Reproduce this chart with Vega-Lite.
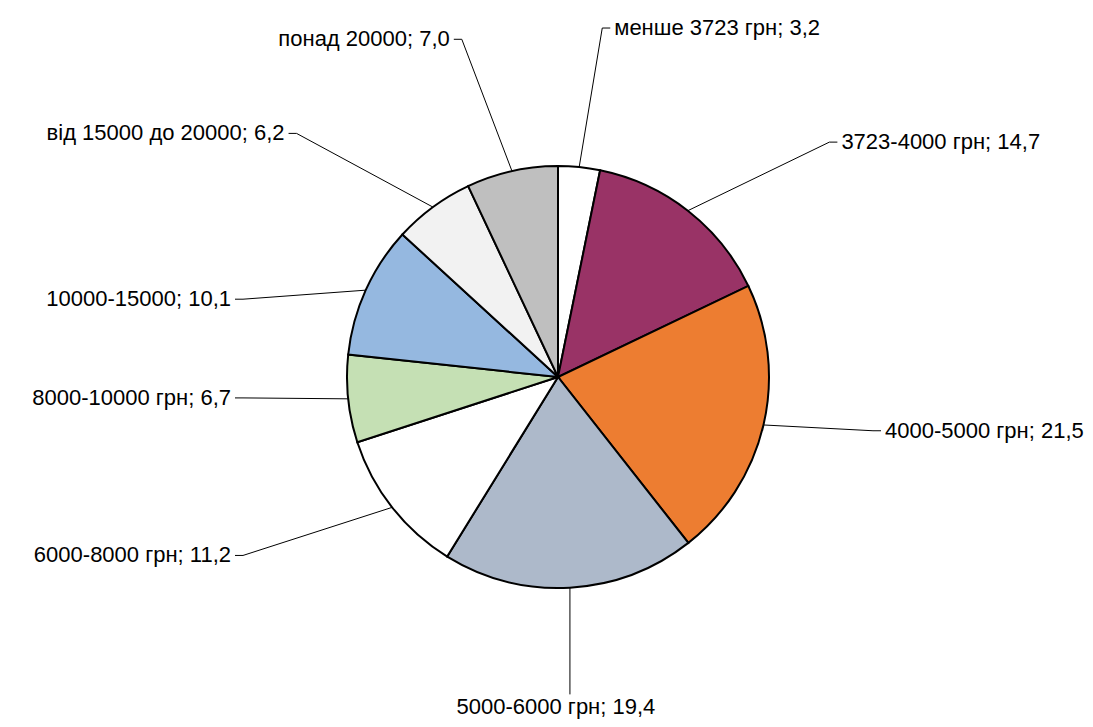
{
  "$schema": "https://vega.github.io/schema/vega-lite/v6.json",
  "width": 1070,
  "height": 700,
  "autosize": {"type": "none"},
  "padding": {"left": 23, "top": 27, "right": 0, "bottom": 0},
  "background": "white",
  "config": {"view": {"stroke": null}, "text": {"font": "Liberation Sans", "fontSize": 22, "fill": "black"}},
  "data": {"values": [
    {"idx": 1, "category": "менше 3723 грн", "value": 3.2},
    {"idx": 2, "category": "3723-4000 грн", "value": 14.7},
    {"idx": 3, "category": "4000-5000 грн", "value": 21.5},
    {"idx": 4, "category": "5000-6000 грн", "value": 19.4},
    {"idx": 5, "category": "6000-8000 грн", "value": 11.2},
    {"idx": 6, "category": "8000-10000 грн", "value": 6.7},
    {"idx": 7, "category": "10000-15000", "value": 10.1},
    {"idx": 8, "category": "від 15000 до 20000", "value": 6.2},
    {"idx": 9, "category": "понад 20000", "value": 7.0}
  ]},
  "transform": [
    {"window": [{"op": "sum", "field": "value", "as": "cum"}], "sort": [{"field": "idx"}], "frame": [null, 0]},
    {"joinaggregate": [{"op": "sum", "field": "value", "as": "total"}]},
    {"calculate": "2*PI*(datum.cum - datum.value/2)/datum.total", "as": "mid"},
    {"calculate": "sin(datum.mid)", "as": "s"},
    {"calculate": "cos(datum.mid)", "as": "c"},
    {"calculate": "datum.c < -0.9", "as": "bottom"},
    {"calculate": "datum.s >= 0 ? 1 : -1", "as": "side"},
    {"calculate": "211*datum.s", "as": "ex"},
    {"calculate": "211*datum.c", "as": "ey"},
    {"calculate": "datum.bottom ? datum.ex : 315*datum.side*min(1, 1.4*abs(datum.s))", "as": "lx"},
    {"calculate": "datum.c >= 0 ? 352*pow(datum.c, 1.7) : -318*pow(-datum.c, 1.2)", "as": "ly"},
    {"calculate": "datum.bottom ? datum.lx : datum.lx + datum.side*8", "as": "hx"},
    {"calculate": "datum.bottom ? datum.lx - 14 : datum.hx + datum.side*4", "as": "tx"},
    {"calculate": "datum.bottom ? datum.ly - 3 : datum.ly", "as": "ty"},
    {"calculate": "datum.category + '; ' + replace(format(datum.value, '.1f'), '.', ',')", "as": "label"}
  ],
  "layer": [
    {
      "mark": {"type": "rule", "stroke": "black", "strokeWidth": 1},
      "encoding": {
        "x": {"field": "ex", "type": "quantitative", "scale": {"domain": [-535, 535], "nice": false, "zero": false}, "axis": null},
        "y": {"field": "ey", "type": "quantitative", "scale": {"domain": [-350, 350], "nice": false, "zero": false}, "axis": null},
        "x2": {"field": "lx"},
        "y2": {"field": "ly"}
      }
    },
    {
      "transform": [{"filter": "!datum.bottom"}],
      "mark": {"type": "rule", "stroke": "black", "strokeWidth": 1},
      "encoding": {
        "x": {"field": "lx", "type": "quantitative", "scale": {"domain": [-535, 535], "nice": false, "zero": false}, "axis": null},
        "y": {"field": "ly", "type": "quantitative", "scale": {"domain": [-350, 350], "nice": false, "zero": false}, "axis": null},
        "x2": {"field": "hx"}
      }
    },
    {
      "mark": {"type": "arc", "outerRadius": 211, "stroke": "black", "strokeWidth": 2},
      "encoding": {
        "theta": {"field": "value", "type": "quantitative", "stack": true},
        "order": {"field": "idx", "type": "quantitative"},
        "color": {
          "field": "category", "type": "nominal", "legend": null,
          "scale": {
            "domain": ["менше 3723 грн", "3723-4000 грн", "4000-5000 грн", "5000-6000 грн", "6000-8000 грн", "8000-10000 грн", "10000-15000", "від 15000 до 20000", "понад 20000"],
            "range": ["#FFFFFF", "#993366", "#ED7D31", "#ADB9CA", "#FFFFFF", "#C5E0B4", "#95B8E0", "#F2F2F2", "#BFBFBF"]
          }
        }
      }
    },
    {
      "transform": [{"filter": "!datum.bottom && datum.side > 0"}],
      "mark": {"type": "text", "align": "left", "baseline": "middle"},
      "encoding": {
        "x": {"field": "tx", "type": "quantitative", "scale": {"domain": [-535, 535], "nice": false, "zero": false}, "axis": null},
        "y": {"field": "ty", "type": "quantitative", "scale": {"domain": [-350, 350], "nice": false, "zero": false}, "axis": null},
        "text": {"field": "label"}
      }
    },
    {
      "transform": [{"filter": "!datum.bottom && datum.side < 0"}],
      "mark": {"type": "text", "align": "right", "baseline": "middle"},
      "encoding": {
        "x": {"field": "tx", "type": "quantitative", "scale": {"domain": [-535, 535], "nice": false, "zero": false}, "axis": null},
        "y": {"field": "ty", "type": "quantitative", "scale": {"domain": [-350, 350], "nice": false, "zero": false}, "axis": null},
        "text": {"field": "label"}
      }
    },
    {
      "transform": [{"filter": "datum.bottom"}],
      "mark": {"type": "text", "align": "center", "baseline": "top"},
      "encoding": {
        "x": {"field": "tx", "type": "quantitative", "scale": {"domain": [-535, 535], "nice": false, "zero": false}, "axis": null},
        "y": {"field": "ty", "type": "quantitative", "scale": {"domain": [-350, 350], "nice": false, "zero": false}, "axis": null},
        "text": {"field": "label"}
      }
    }
  ]
}
